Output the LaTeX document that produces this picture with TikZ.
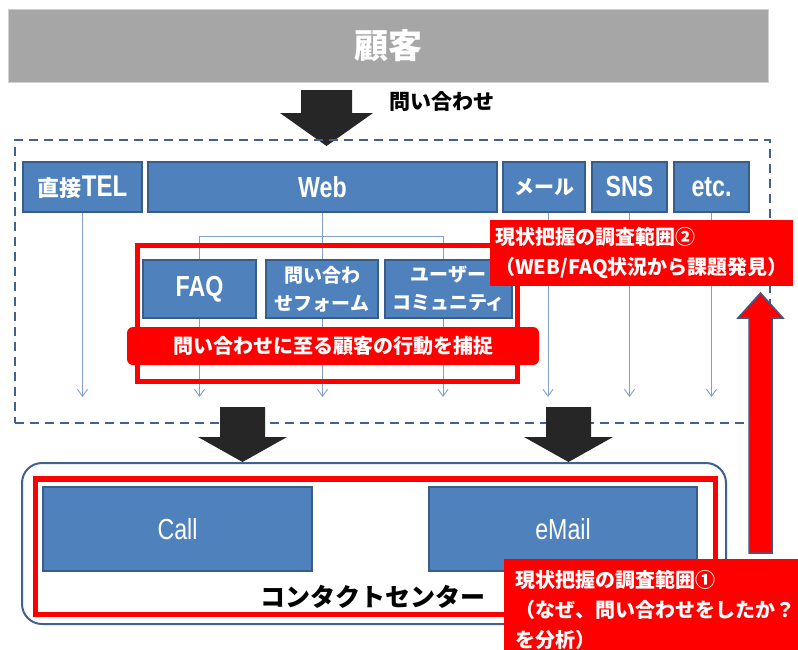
\documentclass[tikz,border=0pt]{standalone}
\usepackage{fontspec}
\setmainfont{Noto Sans CJK JP}
\newfontfamily\latf{Liberation Sans}[FakeStretch=0.8]
\usetikzlibrary{arrows.meta,fit}
\definecolor{boxblue}{HTML}{4F81BD}
\definecolor{boxedge}{HTML}{385D8A}
\definecolor{dashblue}{HTML}{41618E}
\definecolor{linkblue}{HTML}{7F9FD0}
\definecolor{hdgray}{HTML}{A6A6A6}
\definecolor{hdedge}{HTML}{D0D0D0}
\definecolor{blk}{HTML}{262626}
\definecolor{rd}{HTML}{FF0000}
\pgfdeclarelayer{back}
\pgfsetlayers{back,main}
\begin{document}
\begin{tikzpicture}[x=1pt,y=-1pt,
  span/.style n args={4}{minimum width={#3-#1}, minimum height={#4-#2}, at={({(#1+#3)/2},{(#2+#4)/2})}},
  bluebox/.style={draw=boxedge, line width=1.5pt, fill=boxblue, text=white, inner sep=0pt,
    font=\bfseries\fontsize{20}{28}\selectfont, align=center},
  latbox/.style={font=\latf\bfseries\fontsize{29}{32}\selectfont},
  latreg/.style={font=\latf\fontsize{29}{32}\selectfont},
  conn/.style={draw=linkblue, line width=0.9pt, -{Straight Barb[length=7pt,width=10pt]}},
  link/.style={draw=linkblue, line width=0.9pt},
  blockarrow/.style={fill=blk},
  redframe/.style={draw=rd, line width=5.5pt, inner sep=0pt},
  redlabel/.style={fill=rd, text=white, font=\bfseries\fontsize{20}{30}\selectfont, align=left, inner sep=0pt}]

\useasboundingbox (0,0) rectangle (798,649);
\begin{pgfonlayer}{back}
\fill[white] (0,0) rectangle (798,649);
\end{pgfonlayer}

% customer
\node[fill=hdgray, draw=hdedge, line width=1pt, span={8}{9.5}{768}{82}, inner sep=0pt, text=white,
      font=\bfseries\fontsize{34}{38}\selectfont] (cust) {顧客};
\fill[blockarrow] (301,90) -- (352,90) -- (352,113) -- (373,113) -- (326.5,146) -- (280,113) -- (301,113) -- cycle;
\node[anchor=west, font=\bfseries\fontsize{21}{24}\selectfont] (ask) at (386,102) {問い合わせ};

% channels
\node[draw=dashblue, line width=2pt, dash pattern=on 9pt off 6pt, fit={(15,140)(770,423)}, inner sep=0pt] (chan) {};

\node[bluebox, font=\bfseries\fontsize{22}{28}\selectfont, span={23}{162}{142}{212}] (tel) {直接{\latf\bfseries\fontsize{30}{32}\selectfont TEL}};
\node[bluebox, latbox, span={148}{162}{497}{212}] (web) {Web};
\node[bluebox, span={503}{162}{585}{212}] (mail) {メール};
\node[bluebox, latbox, span={592}{162}{667}{212}] (sns) {SNS};
\node[bluebox, latbox, span={674}{162}{749}{212}] (etc) {etc.};

\node[bluebox, latbox, span={143}{260}{256}{318}] (faq) {FAQ};
\node[bluebox, font=\bfseries\fontsize{19}{28}\selectfont, span={266}{260}{378}{318}] (form) {問い合わ\\せフォーム};
\node[bluebox, font=\bfseries\fontsize{19}{28}\selectfont, span={385}{260}{512}{318}] (comm) {ユーザー\\コミュニティ};

\coordinate (bot) at (0,397);
\coordinate (hbar) at (0,236);
\begin{pgfonlayer}{back}
\draw[conn] (tel.south) -- (tel.south |- bot);
\draw[conn] (web.south) -- (web.south |- bot);
\draw[link] (faq.north |- hbar) -- ([xshift=-5.5pt]comm.north |- hbar);
\draw[conn] (faq.north |- hbar) -- (faq.north |- bot);
\draw[conn] ([xshift=-5.5pt]comm.north |- hbar) -- ([xshift=-5.5pt]comm.north |- bot);
\draw[conn] ([xshift=4pt]mail.south) -- ([xshift=4pt]mail.south |- bot);
\draw[conn] (sns.south) -- (sns.south |- bot);
\draw[conn] (etc.south) -- (etc.south |- bot);
\end{pgfonlayer}

\node[redframe, fit={(137.5,245.5)(517.5,381.5)}] (webscope) {};
\node[fill=rd, rounded corners=6pt, span={127}{327}{539}{365}, inner sep=0pt, text=white,
      font=\bfseries\fontsize{20}{24}\selectfont] (capture) {問い合わせに至る顧客の行動を捕捉};

\node[redlabel, span={490}{220}{793}{286}] (scope2)
  {現状把握の調査範囲②\\（WEB/FAQ状況から課題発見）};

% red up arrow
\filldraw[fill=rd, draw=boxedge, line width=1.5pt] (749,553) -- (749,318) -- (738,318) -- (760.5,293)
  -- (783,318) -- (772,318) -- (772,553) -- cycle;

% arrows into contact center
\fill[blockarrow] (220,407) -- (265,407) -- (265,437) -- (287,437) -- (242.5,462) -- (198,437) -- (220,437) -- cycle;
\fill[blockarrow] (546,407) -- (591,407) -- (591,437) -- (613,437) -- (568.5,462) -- (524,437) -- (546,437) -- cycle;

% contact center
\node[draw=dashblue, line width=2pt, rounded corners=20pt, fit={(22,463)(726,624)}, inner sep=0pt] (cc) {};
\node[redframe, fit={(35.5,479)(715.5,614.5)}] (ccscope) {};
\node[bluebox, latreg, span={43}{487}{312}{571}] (call) {Call};
\node[bluebox, latreg, span={429}{487}{697}{571}] (email) {eMail};
\node[font=\bfseries\fontsize{25}{28}\selectfont] (cclabel) at (373,597) {コンタクトセンター};

\node[redlabel, font=\bfseries\fontsize{20}{30}\selectfont, span={504}{559}{806}{661}] (scope1)
  {現状把握の調査範囲①\\（なぜ、問い合わせをしたか？\\を分析）};
\end{tikzpicture}
\end{document}
